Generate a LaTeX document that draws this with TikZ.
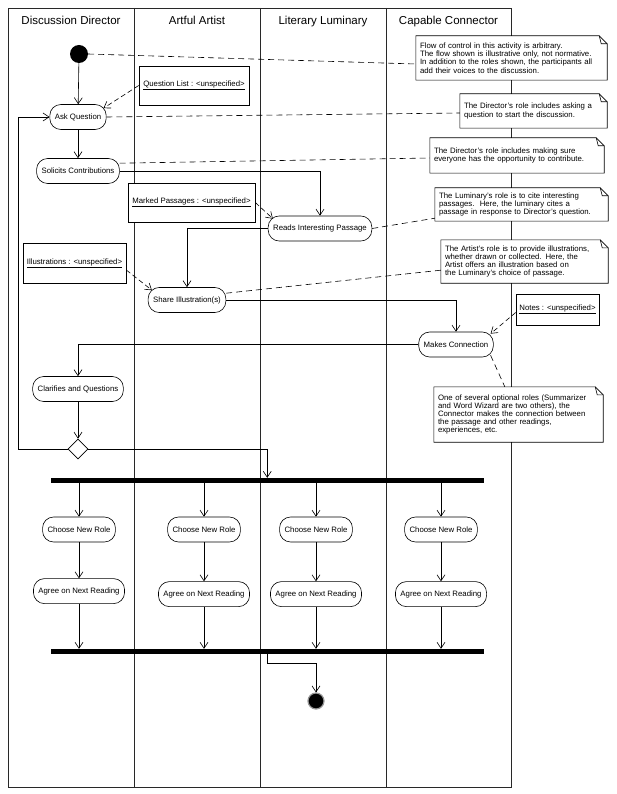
\documentclass[tikz,border=0pt]{standalone}
\usepackage{fontspec}
\setmainfont{Liberation Sans}
\usepackage{tikz}
\usetikzlibrary{positioning,shapes.geometric,arrows.meta}
\definecolor{laneline}{RGB}{40,40,40}
\definecolor{ringgray}{RGB}{150,150,150}

\begin{document}
\begin{tikzpicture}[
    x=1pt, y=-1pt,
    lane/.style={draw=laneline, line width=0.7pt},
    lanehead/.style={anchor=base, font=\fontsize{11.5}{13}\selectfont},
    action/.style={
        rectangle, rounded corners=11pt,
        draw=black, fill=white, line width=0.6pt,
        minimum height=25pt, inner xsep=5pt,
        font=\fontsize{7.8}{9}\selectfont
    },
    object/.style={
        rectangle, draw=black, fill=white, line width=0.6pt,
        font=\fontsize{7.8}{9}\selectfont
    },
    note/.style={
        fill=white, align=left, inner sep=4pt,
        font=\fontsize{7.8}{8.2}\selectfont
    },
    notebd/.style={draw=black, line width=0.6pt},
    decision/.style={diamond, draw=black, fill=white, line width=0.6pt,
        minimum size=20pt, inner sep=0pt},
    bar/.style={rectangle, fill=black, inner sep=0pt,
        minimum width=433.5pt, minimum height=5pt},
    flow/.style={-{Straight Barb[length=6pt,width=8pt]}, line width=0.6pt},
    dep/.style={flow, dash pattern=on 5pt off 3pt},
    link/.style={line width=0.6pt, dash pattern=on 6pt off 4pt}
]
    \useasboundingbox (0,0) rectangle (617,794);

    % swimlanes
    \draw[lane] (8,8) rectangle (511,787);
    \foreach \x in {134,260,386}
        \draw[lane] (\x,8) -- (\x,787);
    \node[lanehead] (hdirector) at (71,24.5) {Discussion Director};
    \node[lanehead] (hartist) at (197,24.5) {Artful Artist};
    \node[lanehead] (hluminary) at (323,24.5) {Literary Luminary};
    \node[lanehead] (hconnector) at (448.5,24.5) {Capable Connector};

    % notes
    \node[note, text width=183pt, minimum height=44pt] (note1) at (511.5,58)
        {Flow of control in this activity is arbitrary.\\The flow shown is illustrative only, not normative.\\In addition to the roles shown, the participants all\\add their voices to the discussion.};
    \node[note, text width=139pt, minimum height=34pt] (note2) at (533.5,111)
        {The Director's role includes asking a\\question to start the discussion.};
    \node[note, text width=166pt, minimum height=35pt] (note3) at (517,155.5)
        {The Director's role includes making sure\\everyone has the opportunity to contribute.};
    \node[note, text width=165pt, minimum height=33pt] (note4) at (521.5,204.5)
        {The Luminary's role is to cite interesting\\passages.\ \ Here, the luminary cites a\\passage in response to Director's question.};
    \node[note, text width=159pt, minimum height=43pt] (note5) at (524.5,261.5)
        {The Artist's role is to provide illustrations,\\whether drawn or collected. Here, the\\Artist offers an illustration based on\\the Luminary's choice of passage.};
    \node[note, text width=161pt, minimum height=55pt] (note6) at (518.5,414.5)
        {One of several optional roles (Summarizer\\and Word Wizard are two others), the\\Connector makes the connection between\\the passage and other readings,\\experiences, etc.};
    \foreach \n in {note1,note2,note3,note4,note5,note6} {
        \draw[notebd] (\n.north west) -- ([xshift=-8pt]\n.north east)
            -- ([yshift=-8pt]\n.north east) -- (\n.south east)
            -- (\n.south west) -- cycle;
        \draw[notebd] ([xshift=-8pt]\n.north east)
            -- ([xshift=-6pt,yshift=-8pt]\n.north east)
            -- ([yshift=-8pt]\n.north east);
    }

    % objects
    \node[object, minimum width=110pt, minimum height=39pt] (qlist) at (194,85.5)
        {\underline{Question List : <unspecified>}};
    \node[object, minimum width=127pt, minimum height=39pt] (mpass) at (191.5,202.5)
        {\underline{Marked Passages : <unspecified>}};
    \node[object, minimum width=103pt, minimum height=40pt] (illus) at (74.5,263)
        {\underline{Illustrations : <unspecified>}};
    \node[object, minimum width=83pt, minimum height=31pt] (notesobj) at (557.5,309.5)
        {\underline{Notes : <unspecified>}};

    % activities
    \node[circle, fill=black, minimum size=18pt, inner sep=0pt] (start) at (79,54) {};
    \node[action] (ask) at (78,117) {Ask Question};
    \node[action] (solicit) at (78,171) {Solicits Contributions};
    \node[action] (reads) at (320,228.5) {Reads Interesting Passage};
    \node[action] (share) at (187,300) {Share Illustration(s)};
    \node[action] (makes) at (456,344.5) {Makes Connection};
    \node[action] (clarify) at (78,389) {Clarifies and Questions};
    \node[decision] (merge) at (78,449) {};
    \coordinate (loopcorner) at (18,449);
    \node[bar] (fork) at (267.25,480.5) {};
    \node[bar] (join) at (267.25,651.5) {};
    \node[circle, fill=black, draw=ringgray, line width=1.2pt,
        minimum size=16pt, inner sep=0pt] (end) at (316,701) {};

    % control flow
    \draw[flow] (start) -- (ask);
    \draw[flow] (ask) -- (solicit);
    \draw[flow] (solicit.east) -| (reads.north);
    \draw[flow] (reads.west) -| (share.north);
    \draw[flow] (share.east) -| (makes.north);
    \draw[flow] (makes.west) -| (clarify.north);
    \draw[flow] (clarify) -- (merge);
    \draw[flow] (merge.west) -- (loopcorner) |- (ask.west);
    \draw[flow] (merge.east) -| (fork.north);

    \foreach \x/\n/\d in {79/a/36,204/b/39,316/c/39,441/d/39} {
        \node[action] (choose\n) at (\x,529.5) {Choose New Role};
        \node[action, below=\d pt of choose\n] (agree\n) {Agree on Next Reading};
        \draw[flow] (fork.south -| choose\n.north) -- (choose\n);
        \draw[flow] (choose\n) -- (agree\n);
        \draw[flow] (agree\n) -- (join.north -| agree\n.south);
    }
    \draw[flow] (join.south) -- ([yshift=-9pt]join.south) -| (end.north);

    % object flow
    \draw[dep] (qlist.west) -- ([xshift=-3pt,yshift=-4pt]ask.north east);
    \draw[dep] (mpass.east) -- ([xshift=5pt,yshift=-3pt]reads.north west);
    \draw[dep] ([yshift=-7pt]illus.east) -- ([xshift=4pt,yshift=-3pt]share.north west);
    \draw[dep] ([yshift=-3pt]notesobj.west) -- ([xshift=-3pt,yshift=-2pt]makes.north east);

    % note links
    \draw[link] (start.east) -- ([yshift=-6pt]note1.west);
    \draw[link] (ask.east) -- ([yshift=-2pt]note2.west);
    \draw[link] ([yshift=-5pt]solicit.north east) -- ([yshift=-2.5pt]note3.west);
    \draw[link] (reads.east) -- ([yshift=3pt]note4.south west);
    \draw[link] ([yshift=-6pt]share.north east) -- ([yshift=13pt]note5.south west);
    \draw[link] ([xshift=-3pt,yshift=2pt]makes.south east) -- ([xshift=71pt]note6.north west);
\end{tikzpicture}
\end{document}
